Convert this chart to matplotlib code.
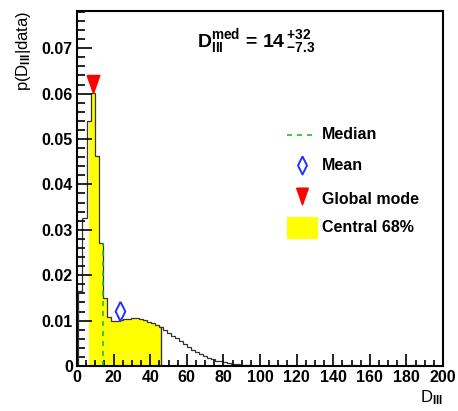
import matplotlib
matplotlib.use('Agg')
import matplotlib.pyplot as plt
from matplotlib.patches import Rectangle
from matplotlib.ticker import MultipleLocator
import numpy as np

plt.rcParams['font.family'] = 'Liberation Sans'
plt.rcParams['font.weight'] = 'bold'
plt.rcParams['mathtext.fontset'] = 'custom'
plt.rcParams['mathtext.rm'] = 'Liberation Sans:bold'
plt.rcParams['mathtext.it'] = 'Liberation Sans:bold'
plt.rcParams['mathtext.bf'] = 'Liberation Sans:bold'

# posterior histogram, bin width 2.2 starting at 0.8
bin_start = 0.8
bin_width = 2.2
prob = [0.0166, 0.0326, 0.0540, 0.0602, 0.0463, 0.0270, 0.0149, 0.0108,
        0.0099, 0.0100, 0.0101, 0.0103, 0.0104, 0.0105, 0.0105, 0.0104,
        0.0101, 0.0098, 0.0094, 0.0090, 0.0085, 0.0079, 0.0073, 0.0067,
        0.0061, 0.0055, 0.0049, 0.0042, 0.0036, 0.0031, 0.0026, 0.0021,
        0.0018, 0.0015, 0.0012, 0.0010, 0.0008, 0.0006, 0.0005, 0.0004,
        0.0003, 0.0002, 0.0002, 0.0001, 0.0001]

median = 14.0
lo68, hi68 = 6.7, 46.0
mean_x, mean_y = 23.5, 0.0122
mode_x, mode_y = 8.5, 0.0622

edges = bin_start + bin_width * np.arange(len(prob) + 1)
prob = np.array(prob)

diamond = [(0, 1), (0.5, 0), (0, -1), (-0.5, 0), (0, 1)]
tri_down = [(-0.7, 1), (0.7, 1), (0, -1), (-0.7, 1)]
green = '#22bb22'
blue = '#2233ff'
red = '#ff0000'

fig = plt.figure(figsize=(4.58, 4.11), dpi=100)
ax = fig.add_axes([77/458, 45/411, 366/458, 355/411])

# central 68% fill
inside = edges[(edges > lo68) & (edges < hi68)]
xs = np.concatenate([[lo68], inside, [hi68]])
idx = np.searchsorted(edges, xs[:-1], side='right') - 1
ys = prob[idx]
ax.fill_between(xs, np.append(ys, ys[-1]), step='post', color='#ffff00', lw=0)
ax.plot([hi68, hi68], [0, ys[-1]], color='#333333', lw=1)

# histogram outline
ax.stairs(prob, edges, color='#333333', lw=0.9, baseline=None)
ax.plot([edges[0], edges[0]], [0, prob[0]], color='#333333', lw=0.9)

# median line
i_med = np.searchsorted(edges, median, side='left') - 1
ax.plot([median, median], [0, prob[i_med]], color=green, ls='--', lw=1.2, dashes=(3, 3))

ax.plot(mean_x, mean_y, marker=diamond, ms=14, mfc='none', mec=blue, mew=1.4, ls='none')
ax.plot(mode_x, mode_y, marker=tri_down, ms=13, color=red, ls='none')

ax.set_xlim(0, 200)
ax.set_ylim(0, 0.0782)
ax.xaxis.set_major_locator(MultipleLocator(20))
ax.xaxis.set_minor_locator(MultipleLocator(5))
ax.yaxis.set_minor_locator(MultipleLocator(0.002))
ax.set_yticks([0, 0.01, 0.02, 0.03, 0.04, 0.05, 0.06, 0.07])
ax.set_yticklabels(['0', '0.01', '0.02', '0.03', '0.04', '0.05', '0.06', '0.07'])
ax.tick_params(which='both', direction='in', labelsize=11.5, width=1.2)
ax.tick_params(axis='y', which='major', length=11, pad=3)
ax.tick_params(axis='y', which='minor', length=6)
ax.tick_params(axis='x', which='major', length=9, pad=3)
ax.tick_params(axis='x', which='minor', length=4.5)
for s in ax.spines.values():
    s.set_linewidth(1.5)

ax.set_xlabel(r'D$_{\mathrm{III}}$', loc='right', fontsize=12, labelpad=2)
ax.set_ylabel(r'p(D$_{\mathrm{III}}$|data)', loc='top', fontsize=12, labelpad=6)

ax.text(0.328, 0.899, r'D$_{\mathrm{III}}^{\mathrm{med}}$ = 14$\,^{+32}_{-7.3}$',
        transform=ax.transAxes, fontsize=14, va='baseline', ha='left')

# legend drawn by hand
ax.plot([0.574, 0.650], [0.651, 0.651], transform=ax.transAxes, color=green,
        ls='--', lw=1.2, dashes=(3, 3))
ax.plot(0.615, 0.566, transform=ax.transAxes, marker=diamond, ms=13, mfc='none',
        mec=blue, mew=1.4)
ax.plot(0.615, 0.478, transform=ax.transAxes, marker=tri_down, ms=12, color=red)
ax.add_patch(Rectangle((0.574, 0.358), 0.084, 0.062, transform=ax.transAxes,
                       facecolor='#ffff00', edgecolor='none'))
labels = ['Median', 'Mean', 'Global mode', 'Central 68%']
label_y = [0.651, 0.566, 0.468, 0.389]
for lab, yy in zip(labels, label_y):
    ax.text(0.669, yy, lab, transform=ax.transAxes, fontsize=11.5, va='center', ha='left')

fig.savefig('out.png', dpi=100)
